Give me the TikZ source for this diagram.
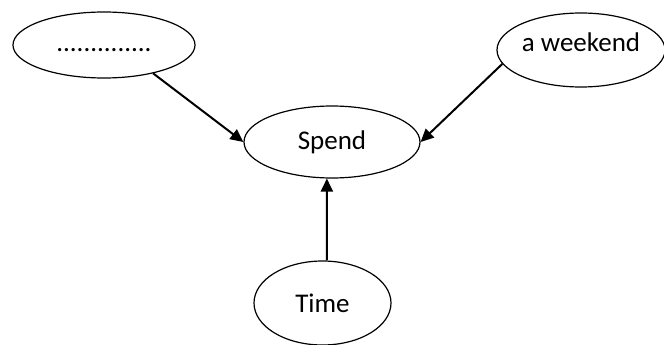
\documentclass[tikz,border=0pt]{standalone}
\usepackage{fontspec}
\setmainfont{Carlito}
\usepackage{tikz}
\usetikzlibrary{arrows.meta,shapes.geometric}

\begin{document}
\begin{tikzpicture}[x=1pt, y=-1pt,
  bubble/.style={ellipse, draw, line width=1.2pt, inner sep=0pt, font=\fontsize{27}{32}\selectfont},
  link/.style={line width=2pt, -{Triangle[length=13pt,width=12pt]}}]
\useasboundingbox (0,0) rectangle (664,345);
% Bolle
\node[bubble, minimum width=182pt, minimum height=66pt] (blank) at (104,45) {\vphantom{Ag}..............};
\node[bubble, minimum width=168pt, minimum height=74pt, text depth=16pt] (weekend) at (581,50) {a weekend};
\node[bubble, minimum width=176pt, minimum height=72pt] (spend) at (332,142) {Spend};
\node[bubble, minimum width=137pt, minimum height=84pt] (time) at (322.5,303) {Time};
% Frecce
\draw[link] (blank.-30) -- (spend.west);
\draw[link] (weekend.190) -- (spend.east);
\draw[link] (time.84) -- (spend.-98);
\end{tikzpicture}
\end{document}
